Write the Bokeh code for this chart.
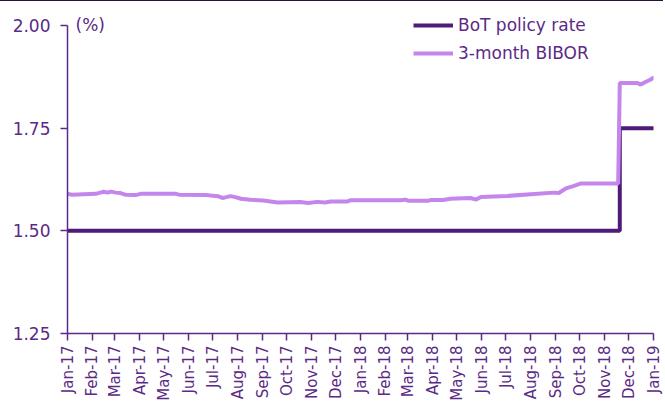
import math
from datetime import datetime
from bokeh.plotting import figure
from bokeh.models import (FixedTicker, DatetimeTickFormatter, NumeralTickFormatter,
                          Range1d, Legend, LegendItem, Label)
from bokeh.embed import file_html
from bokeh.resources import INLINE

# ---------------- data ----------------
policy_dates = ["2017-01-01", "2018-11-20", "2018-11-20", "2019-01-02"]
policy_rate = [1.50, 1.50, 1.75, 1.75]

bibor_dates = [
    "2017-01-01", "2017-01-07", "2017-02-05", "2017-02-11", "2017-02-15", "2017-02-20",
    "2017-02-24", "2017-03-02", "2017-03-08", "2017-03-14", "2017-03-27", "2017-04-02",
    "2017-05-16", "2017-05-20", "2017-06-22", "2017-06-28", "2017-07-08", "2017-07-13",
    "2017-07-18", "2017-07-23", "2017-07-29", "2017-08-05", "2017-08-17", "2017-09-02",
    "2017-09-20", "2017-10-18", "2017-10-28", "2017-11-08", "2017-11-18", "2017-11-25",
    "2017-12-16", "2017-12-20", "2018-02-20", "2018-02-26", "2018-03-02", "2018-03-26",
    "2018-03-29", "2018-04-14", "2018-04-23", "2018-05-18", "2018-05-25", "2018-05-31",
    "2018-07-03", "2018-08-01", "2018-08-30", "2018-09-05", "2018-09-14", "2018-09-23",
    "2018-10-02", "2018-11-18", "2018-11-20", "2018-12-12", "2018-12-16", "2018-12-22",
    "2018-12-28", "2019-01-02",
]
bibor = [
    1.590, 1.588, 1.590, 1.593, 1.595, 1.593,
    1.5955, 1.593, 1.592, 1.588, 1.587, 1.590,
    1.590, 1.588, 1.5875, 1.586, 1.584, 1.580,
    1.582, 1.5845, 1.582, 1.578, 1.5755, 1.574,
    1.569, 1.570, 1.568, 1.5705, 1.569, 1.5715,
    1.5715, 1.5745, 1.5745, 1.576, 1.573, 1.573,
    1.575, 1.575, 1.578, 1.580, 1.576, 1.5825,
    1.585, 1.589, 1.593, 1.592, 1.6035, 1.609,
    1.615, 1.615, 1.860, 1.860, 1.856, 1.8625,
    1.868, 1.874,
]

month_ticks = ["2017-%02d-01" % m for m in range(1, 13)] + \
              ["2018-%02d-01" % m for m in range(1, 13)] + ["2019-01-01"]
y_ticks = [1.25, 1.50, 1.75, 2.00]

series_names = ["BoT policy rate", "3-month BIBOR"]

# ---------------- styling ----------------
TEXT = "#5B2A86"
DARK = "#4F1A78"
LIGHT = "#C485EC"
FONT = "DejaVu Sans"
FS = "17px"
FS_X = "15px"

def d(s):
    return datetime.strptime(s, "%Y-%m-%d")

def ms(s):
    return (d(s) - datetime(1970, 1, 1)).total_seconds() * 1000.0

x_start, x_end = d(month_ticks[0]), d(month_ticks[-1])

FH = 322
p = figure(x_axis_type="datetime", output_backend="svg", toolbar_location=None,
           frame_width=586, frame_height=FH,
           min_border_left=67, min_border_right=10, min_border_top=10, min_border_bottom=0,
           x_range=Range1d(x_start, x_end),
           y_range=Range1d(1.25, 1.25 + FH / 410.7))
p.outline_line_color = None
p.xgrid.visible = False
p.ygrid.visible = False
p.background_fill_color = "white"
p.border_fill_color = "white"
p.styles = {"border-top": "1.5px solid #2A1040"}

r1 = p.line([d(s) for s in policy_dates], policy_rate, line_color=DARK, line_width=4)
r2 = p.line([d(s) for s in bibor_dates], bibor, line_color=LIGHT, line_width=4)

# axes
xa = p.xaxis[0]
xa.ticker = FixedTicker(ticks=[ms(s) for s in month_ticks])
fmt = "%b-%y"
xa.formatter = DatetimeTickFormatter(microseconds=fmt, milliseconds=fmt, seconds=fmt,
                                     minsec=fmt, minutes=fmt, hourmin=fmt, hours=fmt,
                                     days=fmt, months=fmt, years=fmt)
xa.major_label_orientation = math.pi / 2
xa.major_label_standoff = 5

ya = p.yaxis[0]
ya.ticker = FixedTicker(ticks=y_ticks)
ya.formatter = NumeralTickFormatter(format="0.00")
ya.bounds = (y_ticks[0], y_ticks[-1])
ya.major_label_standoff = 10

for ax in (xa, ya):
    ax.axis_line_color = TEXT
    ax.axis_line_width = 1.5
    ax.major_tick_line_color = TEXT
    ax.major_tick_line_width = 1.5
    ax.major_tick_in = 0
    ax.major_tick_out = 7
    ax.minor_tick_line_color = None
    ax.major_label_text_color = TEXT
    ax.major_label_text_font = FONT
ya.major_label_text_font_size = FS
xa.major_label_text_font_size = FS_X

p.add_layout(Label(x=x_start, y=y_ticks[-1], x_offset=8, text="(%)",
                   text_baseline="middle", text_color=TEXT, text_font=FONT,
                   text_font_size=FS))

legend = Legend(items=[LegendItem(label=series_names[0], renderers=[r1]),
                       LegendItem(label=series_names[1], renderers=[r2])],
                location=(346, 270))
legend.border_line_color = None
legend.background_fill_alpha = 0
legend.padding = 0
legend.margin = 0
legend.spacing = 8
legend.glyph_width = 40
legend.glyph_height = 20
legend.label_height = 20
legend.label_standoff = 5
legend.label_text_color = TEXT
legend.label_text_font = FONT
legend.label_text_font_size = FS
p.add_layout(legend)

open("out.html", "w").write(file_html(p, INLINE))
